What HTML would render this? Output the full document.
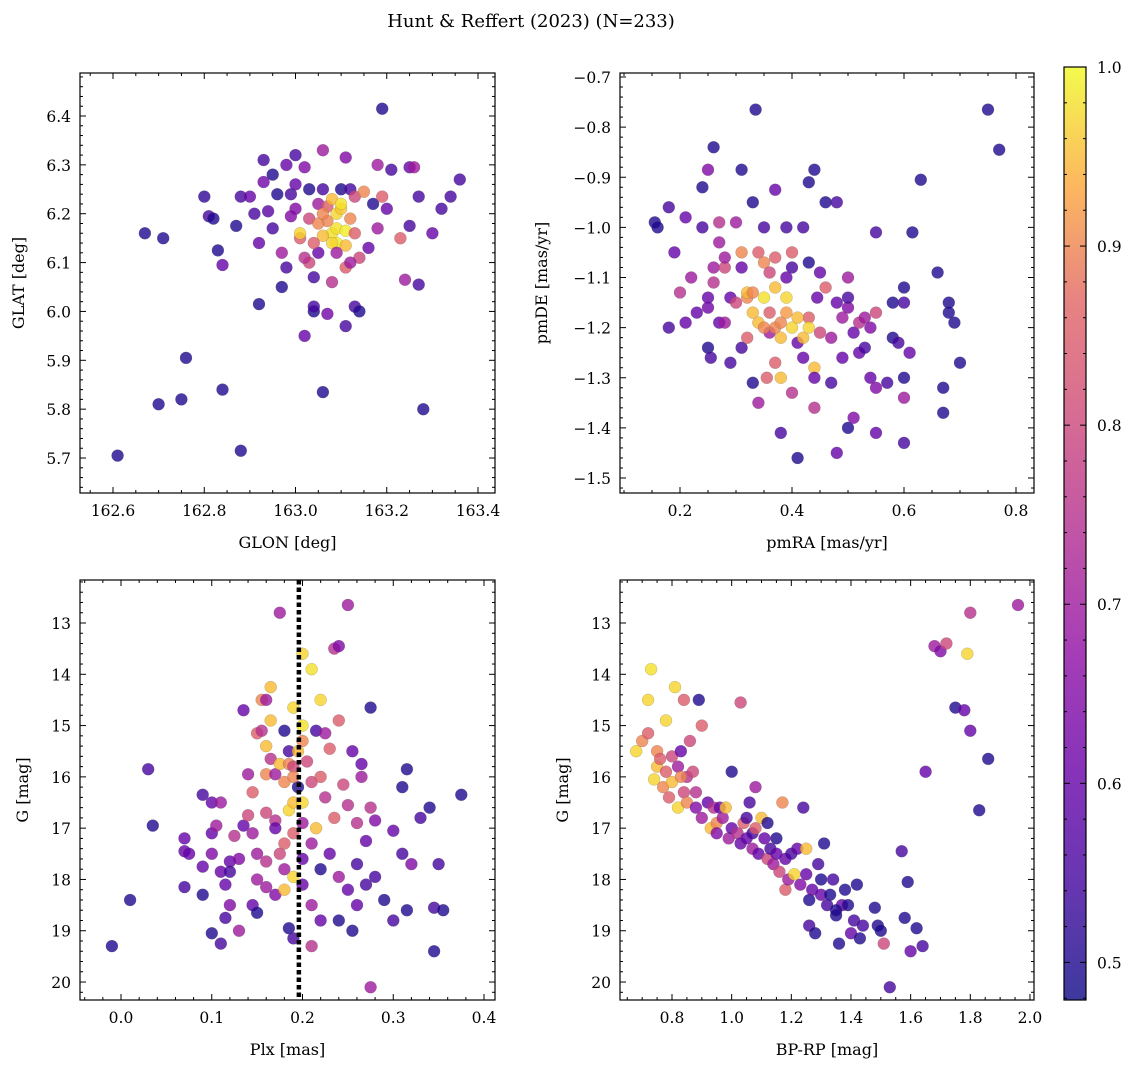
<!DOCTYPE html>
<html><head><meta charset="utf-8">
<style>
body{margin:0;background:#fff;}
svg{display:block;font-family:"DejaVu Serif","Liberation Serif",serif;}
</style></head>
<body>
<svg id="fig" width="1136" height="1067">
<text x="531" y="27" font-size="18" text-anchor="middle">Hunt &amp; Reffert (2023) (N=233)</text>
</svg>
<script>
// panel 1: GLON, GLAT, membership probability
const glon = [162.61,162.70,162.75,162.76,162.84,162.88,163.06,163.28,163.19,162.67,162.71,162.80,162.81,162.82,162.83,162.84,162.87,162.88,162.90,162.91,162.92,162.92,162.93,162.93,162.94,162.95,162.95,162.96,162.97,162.97,162.98,162.98,162.99,163.00,163.00,163.01,163.01,163.02,163.02,163.03,163.03,163.04,163.04,163.04,163.05,163.05,163.06,163.06,163.07,163.07,163.07,163.08,163.08,163.09,163.09,163.09,163.10,163.10,163.10,163.11,163.11,163.11,163.11,163.12,163.12,163.13,163.13,163.14,163.14,163.15,163.16,163.17,163.18,163.18,163.19,163.20,163.21,163.23,163.24,163.25,163.25,163.26,163.27,163.27,163.30,163.32,163.34,163.36,163.06,163.08,163.05,163.09,163.03,163.02,162.99,163.00,163.06,163.11,163.13,163.04,163.08,163.12];
const glat = [5.705,5.81,5.82,5.905,5.84,5.715,5.835,5.80,6.415,6.16,6.15,6.235,6.195,6.19,6.125,6.095,6.175,6.235,6.235,6.20,6.015,6.14,6.31,6.265,6.205,6.17,6.28,6.24,6.12,6.05,6.09,6.30,6.24,6.32,6.21,6.15,6.16,6.295,5.95,6.19,6.25,6.0,6.01,6.07,6.22,6.12,6.33,6.25,6.215,6.185,5.995,6.23,6.16,6.14,6.20,6.17,6.21,6.22,6.25,6.165,6.135,6.315,5.97,6.19,6.25,6.235,6.01,6.0,6.11,6.245,6.13,6.22,6.30,6.17,6.235,6.21,6.29,6.15,6.065,6.175,6.295,6.295,6.055,6.235,6.16,6.21,6.235,6.27,6.155,6.14,6.18,6.12,6.10,6.11,6.195,6.26,6.2,6.09,6.16,6.14,6.06,6.10];
const prob1 = [.5,.5,.5,.5,.5,.5,.5,.5,.5,.5,.5,.52,.55,.5,.5,.6,.5,.55,.6,.55,.5,.6,.55,.62,.58,.55,.5,.5,.7,.5,.55,.6,.55,.55,.65,.85,.97,.65,.6,.8,.5,.5,.55,.55,.7,.6,.7,.55,.85,.9,.62,.95,.98,.99,.97,.98,.96,.98,.5,.99,.95,.65,.55,.9,.55,.8,.55,.5,.8,.9,.6,.5,.7,.7,.85,.6,.55,.85,.7,.55,.6,.7,.55,.55,.6,.55,.55,.55,.95,.97,.9,.7,.8,.75,.65,.6,.9,.85,.85,.85,.75,.7];
// panel 2: pmRA, pmDE
const pmra = [0.155,0.16,0.18,0.18,0.19,0.2,0.21,0.21,0.22,0.23,0.24,0.24,0.25,0.25,0.25,0.25,0.255,0.26,0.26,0.26,0.27,0.27,0.27,0.28,0.28,0.28,0.29,0.29,0.3,0.3,0.31,0.31,0.31,0.31,0.32,0.32,0.32,0.33,0.33,0.33,0.335,0.34,0.34,0.34,0.35,0.35,0.35,0.355,0.36,0.36,0.36,0.37,0.37,0.37,0.37,0.37,0.38,0.38,0.38,0.38,0.39,0.39,0.39,0.4,0.4,0.4,0.4,0.41,0.41,0.42,0.42,0.42,0.43,0.43,0.43,0.44,0.44,0.44,0.44,0.445,0.45,0.45,0.46,0.46,0.47,0.47,0.48,0.48,0.48,0.49,0.49,0.5,0.5,0.5,0.5,0.51,0.51,0.52,0.52,0.53,0.53,0.54,0.54,0.55,0.55,0.55,0.55,0.57,0.58,0.58,0.59,0.6,0.6,0.6,0.6,0.6,0.61,0.615,0.63,0.66,0.67,0.67,0.68,0.68,0.69,0.7,0.75,0.77,0.41,0.35,0.33,0.43,0.39];
const pmde = [-0.99,-1.0,-0.96,-1.2,-1.05,-1.13,-0.98,-1.19,-1.1,-1.17,-0.92,-1.0,-1.14,-1.16,-0.885,-1.24,-1.26,-1.08,-0.84,-1.11,-1.03,-1.19,-0.99,-1.19,-1.08,-1.06,-1.27,-1.14,-0.99,-1.15,-1.05,-0.885,-1.08,-1.24,-1.14,-1.13,-1.22,-1.31,-1.17,-0.95,-0.765,-1.05,-1.19,-1.35,-1.14,-1.07,-1.0,-1.3,-1.17,-1.21,-1.09,-1.12,-1.06,-1.2,-1.27,-0.925,-1.3,-1.19,-1.41,-1.22,-1.1,-1.14,-1.0,-1.2,-1.08,-1.33,-1.05,-1.46,-1.23,-1.22,-1.26,-1.0,-0.91,-1.07,-1.18,-1.28,-1.36,-1.3,-0.885,-1.14,-1.21,-1.09,-1.12,-0.95,-1.31,-1.22,-1.15,-0.95,-1.45,-1.18,-1.26,-1.16,-1.14,-1.4,-1.1,-1.38,-1.21,-1.25,-1.19,-1.24,-1.18,-1.3,-1.2,-1.01,-1.17,-1.32,-1.41,-1.31,-1.22,-1.15,-1.23,-1.12,-1.15,-1.3,-1.34,-1.43,-1.25,-1.01,-0.905,-1.09,-1.37,-1.32,-1.15,-1.17,-1.19,-1.27,-0.765,-0.845,-1.18,-1.2,-1.13,-1.2,-1.17];
const prob2 = [.5,.5,.55,.55,.6,.75,.6,.6,.7,.6,.5,.55,.6,.62,.65,.5,.55,.7,.5,.75,.7,.6,.75,.7,.8,.7,.55,.6,.7,.8,.9,.5,.6,.55,.9,.95,.85,.5,.95,.5,.5,.85,.95,.7,.98,.9,.55,.85,.85,.7,.8,.95,.85,.9,.85,.6,.95,.9,.55,.95,.6,.97,.55,.97,.55,.75,.85,.5,.6,.95,.6,.55,.5,.5,.85,.95,.75,.6,.5,.6,.8,.6,.85,.5,.55,.7,.6,.55,.6,.7,.6,.65,.55,.5,.7,.65,.6,.6,.75,.55,.7,.6,.65,.55,.8,.65,.6,.55,.5,.5,.55,.5,.55,.5,.7,.55,.6,.5,.5,.5,.5,.5,.5,.5,.5,.5,.5,.5,.95,.9,.9,.97,.92];
// panel 3: Plx, G
const plx = [-0.01,0.01,0.03,0.035,0.07,0.07,0.07,0.075,0.09,0.09,0.09,0.1,0.1,0.1,0.1,0.105,0.11,0.11,0.11,0.115,0.115,0.12,0.12,0.12,0.125,0.13,0.135,0.13,0.135,0.14,0.14,0.145,0.145,0.145,0.15,0.15,0.15,0.15,0.155,0.155,0.16,0.16,0.16,0.16,0.16,0.16,0.165,0.165,0.165,0.17,0.17,0.17,0.17,0.175,0.175,0.175,0.18,0.18,0.18,0.18,0.185,0.185,0.185,0.185,0.19,0.19,0.19,0.19,0.19,0.19,0.195,0.195,0.2,0.2,0.2,0.2,0.2,0.205,0.21,0.21,0.21,0.21,0.21,0.215,0.215,0.22,0.22,0.22,0.22,0.225,0.225,0.23,0.23,0.235,0.235,0.24,0.24,0.24,0.24,0.245,0.25,0.25,0.25,0.255,0.255,0.26,0.26,0.26,0.265,0.265,0.27,0.27,0.275,0.275,0.275,0.28,0.28,0.29,0.3,0.3,0.31,0.31,0.315,0.315,0.32,0.33,0.34,0.345,0.345,0.35,0.355,0.375,0.2,0.19,0.2,0.18];
const gmag3 = [19.3,18.4,15.85,16.95,17.2,17.45,18.15,17.5,16.35,17.75,18.3,19.05,16.5,17.1,17.5,16.95,19.25,17.85,16.5,18.1,18.75,17.65,18.5,17.85,17.15,19.0,16.95,17.6,14.7,15.95,16.75,16.3,17.1,18.5,18.65,15.15,17.5,18.0,15.1,14.5,14.5,15.4,15.95,16.7,17.65,18.15,14.25,14.9,15.65,16.85,17.0,18.3,15.95,12.8,15.75,17.5,15.1,16.1,18.2,17.8,15.75,16.65,15.5,18.95,14.65,15.8,16.5,17.1,17.95,19.15,15.5,16.2,13.6,15.3,16.9,18.1,17.6,15.7,13.9,16.1,17.3,18.5,19.3,15.1,17.0,14.5,16.0,17.8,18.8,15.15,16.4,17.5,15.45,13.5,16.8,14.9,13.45,17.95,18.8,16.15,12.65,16.55,18.2,15.5,19.0,16.9,17.7,18.5,16.0,15.75,17.25,18.1,14.65,16.6,20.1,17.95,16.85,18.4,17.05,18.8,16.2,17.5,15.85,18.6,17.7,16.8,16.6,19.4,18.55,17.7,18.6,16.35,16.5,16.0,15.0,17.3];
const prob3 = [.5,.5,.55,.5,.6,.6,.55,.6,.55,.6,.5,.5,.6,.6,.65,.7,.55,.6,.7,.6,.55,.6,.65,.55,.75,.7,.6,.65,.6,.7,.8,.85,.7,.6,.5,.85,.7,.7,.75,.9,.7,.95,.9,.8,.75,.7,.95,.95,.75,.75,.6,.65,.7,.7,.95,.8,.5,.9,.95,.7,.9,.97,.55,.5,.97,.8,.95,.85,.97,.55,.95,.5,.97,.9,.7,.6,.6,.8,.98,.8,.7,.7,.75,.55,.95,.97,.85,.5,.6,.7,.75,.6,.85,.75,.85,.85,.65,.7,.5,.8,.7,.75,.6,.6,.5,.75,.55,.6,.7,.6,.6,.55,.5,.75,.7,.55,.65,.5,.6,.55,.5,.55,.5,.5,.65,.55,.5,.5,.55,.55,.5,.5,.97,.9,.98,.85];
// panel 4: BP-RP, G
const bprp = [0.68,0.7,0.72,0.72,0.73,0.74,0.75,0.75,0.76,0.77,0.78,0.78,0.79,0.8,0.8,0.81,0.82,0.82,0.83,0.84,0.84,0.85,0.85,0.86,0.87,0.88,0.88,0.89,0.9,0.9,0.92,0.93,0.94,0.95,0.96,0.97,0.98,0.99,1.0,1.0,1.02,1.03,1.03,1.04,1.05,1.06,1.07,1.07,1.08,1.08,1.09,1.1,1.11,1.12,1.12,1.13,1.14,1.15,1.16,1.17,1.18,1.18,1.19,1.2,1.21,1.22,1.23,1.24,1.25,1.25,1.26,1.26,1.27,1.28,1.29,1.3,1.3,1.31,1.32,1.33,1.34,1.35,1.36,1.37,1.38,1.39,1.4,1.41,1.42,1.43,1.44,1.48,1.49,1.5,1.51,1.53,1.57,1.59,1.58,1.6,1.62,1.64,1.65,1.68,1.7,1.72,1.75,1.78,1.79,1.8,1.8,1.83,1.86,1.96,0.95,1.15,1.35,0.83,1.05];
const gmag4 = [15.5,15.3,15.15,14.5,13.9,16.05,15.8,15.5,15.65,16.2,14.9,15.9,16.4,15.6,16.1,14.25,16.6,15.8,15.5,14.5,16.3,16.0,16.5,15.3,15.9,16.3,16.6,14.5,16.8,15.0,16.5,17.0,16.6,16.9,16.6,16.8,16.6,17.2,17.0,15.9,17.1,17.3,14.55,16.9,17.2,16.5,17.4,17.1,16.2,17.0,17.5,16.8,17.2,17.6,16.9,17.4,17.7,17.2,17.85,16.5,18.2,17.6,18.0,17.5,17.9,17.4,18.1,16.6,17.4,17.9,18.4,18.9,18.2,19.05,17.7,18.0,18.3,17.3,18.5,18.3,18.0,18.7,19.25,18.5,18.2,18.5,19.05,18.8,18.1,19.15,18.9,18.55,18.9,19.0,19.25,20.1,17.45,18.05,18.75,19.4,18.95,19.3,15.9,13.45,13.55,13.4,14.65,14.7,13.6,12.8,15.1,16.65,15.65,12.65,17.1,17.5,18.6,16.0,16.8];
const prob4 = [.97,.9,.85,.97,.98,.97,.95,.9,.85,.9,.97,.85,.85,.8,.95,.97,.97,.7,.6,.85,.8,.75,.9,.8,.8,.75,.65,.5,.7,.85,.6,.95,.75,.9,.6,.7,.95,.7,.6,.5,.75,.6,.8,.85,.6,.55,.7,.55,.7,.85,.6,.95,.6,.8,.5,.55,.7,.5,.8,.9,.85,.6,.7,.55,.97,.6,.65,.55,.95,.6,.5,.55,.6,.5,.55,.5,.6,.5,.55,.5,.55,.5,.5,.6,.5,.5,.6,.55,.5,.5,.55,.5,.5,.5,.8,.55,.55,.5,.5,.6,.5,.55,.6,.7,.65,.8,.5,.6,.97,.75,.6,.5,.5,.7,.65,.6,.5,.9,.55];
const cbTicks = [0.5,0.6,0.7,0.8,0.9,1.0];

const VMIN=0.479, VMAX=1.0;
const stops2=[[0,[13,8,135]],[0.125,[65,4,157]],[0.25,[106,0,168]],[0.375,[143,13,164]],[0.5,[177,42,144]],[0.625,[204,71,120]],[0.75,[225,100,98]],[0.875,[252,166,54]],[1,[240,249,33]]];
function cmap(v){
  let t=(v-VMIN)/(VMAX-VMIN); t=Math.max(0,Math.min(1,t));
  for(let i=0;i<stops2.length-1;i++){
    const a=stops2[i],b=stops2[i+1];
    if(t<=b[0]){const f=(t-a[0])/(b[0]-a[0]);
      const c=a[1].map((x,k)=>Math.round(x+(b[1][k]-x)*f));
      return `rgb(${c[0]},${c[1]},${c[2]})`;}
  }
  return 'rgb(240,249,33)';
}
const NS='http://www.w3.org/2000/svg';
const svg=document.getElementById('fig');
function el(tag,attrs,parent){const e=document.createElementNS(NS,tag);for(const k in attrs)e.setAttribute(k,attrs[k]);(parent||svg).appendChild(e);return e;}

function panel(o){
  const g=el('g',{});
  
  
  const sx=v=>o.L+(v-o.x0)/(o.x1-o.x0)*(o.R-o.L);
  const sy=v=>o.inv? o.T+(v-o.y0)/(o.y1-o.y0)*(o.B-o.T) : o.B-(v-o.y0)/(o.y1-o.y0)*(o.B-o.T);
  const pg=el('g',{},g);
  
  
  for(let i=0;i<o.xs.length;i++){
    const c=el('circle',{cx:sx(o.xs[i]).toFixed(1),cy:sy(o.ys[i]).toFixed(1),r:6,fill:cmap(o.ps[i]),'fill-opacity':0.8,stroke:'#555','stroke-width':0.3,'stroke-opacity':0.6},pg);
    
    
  }
  if(o.vline!==undefined){
    const l=el('line',{x1:sx(o.vline),x2:sx(o.vline),y1:o.T,y2:o.B,stroke:'#000','stroke-width':4.5,'stroke-dasharray':'4.5 3'},g);
    
    
  }
  const f=el('rect',{x:o.L,y:o.T,width:o.R-o.L,height:o.B-o.T,fill:'none',stroke:'#000','stroke-width':1.2},g);
  
  
  const tg=el('g',{stroke:'#000','stroke-width':1},g);
  const eps=1e-9;
  const xs0=Math.ceil((Math.min(o.x0,o.x1)-eps)/o.xmin)*o.xmin;
  for(let v=xs0; v<=Math.max(o.x0,o.x1)+eps; v+=o.xmin){
    const X=sx(v); const maj=Math.abs(v/o.xmaj-Math.round(v/o.xmaj))<1e-6; const len=maj?6:3;
    el('line',{x1:X,x2:X,y1:o.B,y2:o.B-len},tg); el('line',{x1:X,x2:X,y1:o.T,y2:o.T+len},tg);
  }
  const lo=Math.min(o.y0,o.y1),hi=Math.max(o.y0,o.y1);
  for(let v=Math.ceil((lo-eps)/o.ymin)*o.ymin; v<=hi+eps; v+=o.ymin){
    const Y=sy(v); const maj=Math.abs(v/o.ymaj-Math.round(v/o.ymaj))<1e-6; const len=maj?6:3;
    el('line',{x1:o.L,x2:o.L+len,y1:Y,y2:Y},tg); el('line',{x1:o.R,x2:o.R-len,y1:Y,y2:Y},tg);
  }
  for(const v of o.xt){
    const t=el('text',{x:sx(v),y:o.B+23,'font-size':15.5,'text-anchor':'middle'},g);
    t.textContent=v.toFixed(o.xd).replace('-','\u2212');
    
    
  }
  for(const v of o.yt){
    const t=el('text',{x:o.L-9,y:sy(v)+6,'font-size':15.5,'text-anchor':'end'},g);
    t.textContent=v.toFixed(o.yd).replace('-','\u2212');
    
    
  }
  const xl=el('text',{x:(o.L+o.R)/2,y:o.B+55,'font-size':16,'text-anchor':'middle'},g);
  xl.textContent=o.xlab;
  
  
  const yx=o.L-o.ylo, yy=(o.T+o.B)/2;
  const yl=el('text',{x:yx,y:yy,'font-size':16,'text-anchor':'middle',transform:`rotate(-90 ${yx} ${yy})`},g);
  yl.textContent=o.ylab;
  
  
}
function rng(a,b,s){const r=[];for(let v=a;v<=b+1e-9;v+=s)r.push(Math.round(v*1000)/1000);return r;}

panel({name:'glon-glat-panel',L:80,R:495,T:73,B:493,x0:162.6-33/456.25,x1:162.6+(495-113)/456.25,
  y0:6.4-(493-116)/488.6,y1:6.4+(116-73)/488.6,xs:glon,ys:glat,ps:prob1,xmaj:0.2,xmin:0.05,ymaj:0.1,ymin:0.02,
  xt:rng(162.6,163.4,0.2),xd:1,yt:rng(5.7,6.4,0.1),yd:1,xlab:'GLON [deg]',ylab:'GLAT [deg]',ylo:56});
panel({name:'pm-panel',L:620,R:1034,T:73,B:493,x0:0.2-60/560,x1:0.2+(1034-680)/560,
  y0:-0.7-(493-77)/501.25,y1:-0.7+(77-73)/501.25,xs:pmra,ys:pmde,ps:prob2,xmaj:0.2,xmin:0.05,ymaj:0.1,ymin:0.02,
  xt:rng(0.2,0.8,0.2),xd:1,yt:rng(-1.5,-0.7,0.1),yd:1,xlab:'pmRA [mas/yr]',ylab:'pmDE [mas/yr]',ylo:73});
panel({name:'plx-g-panel',L:80,R:495,T:580,B:1000,inv:true,x0:0-41/907.5,x1:(495-121)/907.5,
  y0:13-(623-580)/51.29,y1:13+(1000-623)/51.29,xs:plx,ys:gmag3,ps:prob3,xmaj:0.1,xmin:0.02,ymaj:1,ymin:0.2,
  xt:rng(0,0.4,0.1),xd:1,yt:rng(13,20,1),yd:0,xlab:'Plx [mas]',ylab:'G [mag]',ylo:52,vline:0.196});
panel({name:'cmd-panel',L:620,R:1034,T:580,B:1000,inv:true,x0:0.8-52/298.3,x1:0.8+(1034-672)/298.3,
  y0:13-(623-580)/51.29,y1:13+(1000-623)/51.29,xs:bprp,ys:gmag4,ps:prob4,xmaj:0.2,xmin:0.05,ymaj:1,ymin:0.2,
  xt:rng(0.8,2.0,0.2),xd:1,yt:rng(13,20,1),yd:0,xlab:'BP-RP [mag]',ylab:'G [mag]',ylo:52});

(function(){
  const L=1064,R=1086,T=67,B=1000;
  const g=el('g',{});
  
  
  const defs=el('defs',{},g);
  const lg=el('linearGradient',{id:'cbg',x1:0,y1:1,x2:0,y2:0},defs);
  for(let i=0;i<=40;i++){const v=VMIN+(VMAX-VMIN)*i/40;
    el('stop',{offset:i/40,'stop-color':cmap(v),'stop-opacity':0.8},lg);}
  el('rect',{x:L,y:T,width:R-L,height:B-T,fill:'url(#cbg)'},g);
  el('rect',{x:L,y:T,width:R-L,height:B-T,fill:'none',stroke:'#000','stroke-width':1.2},g);
  const sy=v=>B-(v-VMIN)/(VMAX-VMIN)*(B-T);
  for(let v=0.48;v<=1.0001;v+=0.02){
    const maj=Math.abs(v*10-Math.round(v*10))<1e-6;const len=maj?6:3;
    el('line',{x1:R,x2:R-len,y1:sy(v),y2:sy(v),stroke:'#000','stroke-width':1},g);
    el('line',{x1:L,x2:L+len,y1:sy(v),y2:sy(v),stroke:'#000','stroke-width':1},g);
  }
  for(const v of cbTicks){
    const t=el('text',{x:R+11,y:sy(v)+6,'font-size':15.5},g);
    t.textContent=v.toFixed(1);
    
    
  }
})();
</script>
</body></html>
